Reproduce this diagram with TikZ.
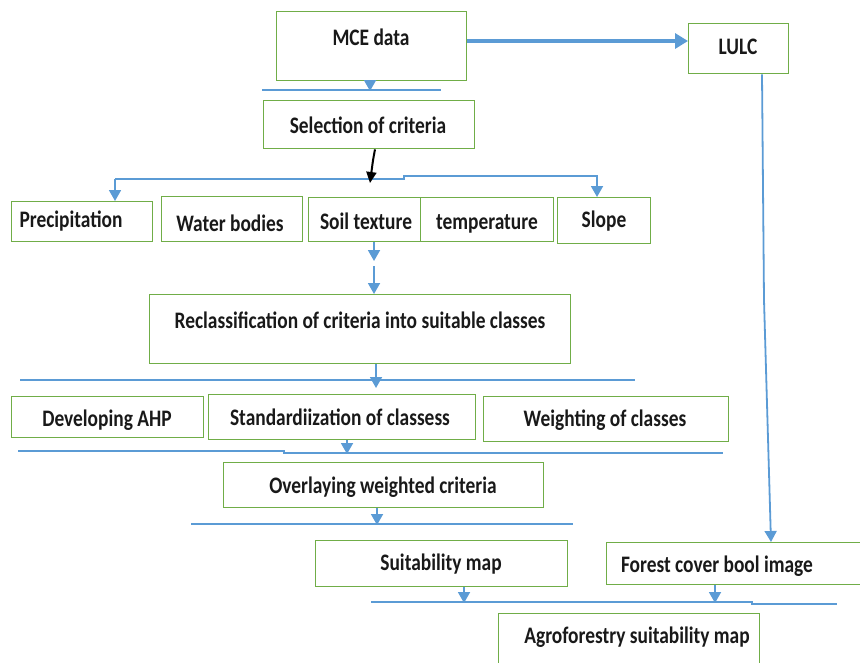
\documentclass[tikz,border=0pt]{standalone}
\usepackage{fontspec}
\setmainfont{Carlito}
\usetikzlibrary{arrows.meta}
\definecolor{boxgreen}{HTML}{70AD47}
\definecolor{flowblue}{HTML}{5B9BD5}
\newcommand\tallt[1]{\scalebox{1}[1.22]{#1}}
\tikzset{
  box/.style={draw=boxgreen, line width=1.4pt, rectangle, inner sep=0pt, anchor=north west},
  txt/.style={inner sep=0pt, font=\fontsize{19.4}{20}\selectfont\bfseries, text=black!90},
  bar/.style={draw=flowblue, line width=1.6pt},
  flow/.style={draw=flowblue, line width=1.8pt, -{Triangle[length=11pt,width=12pt]}},
  thickflow/.style={draw=flowblue, line width=3.4pt, -{Triangle[length=13pt,width=15pt]}},
  blackflow/.style={draw=black, line width=2pt, -{Triangle[length=11pt,width=10pt]}}
}
\begin{document}
\begin{tikzpicture}[x=1pt,y=-1pt]
\useasboundingbox (0,0) rectangle (860,662);
\clip (0,0) rectangle (860,662);
% boxes
\node[box, minimum width=190pt, minimum height=69pt] (mce) at (276,11) {};
\node[txt] (mcet) at (371,37) {\tallt{MCE data}};
\node[box, minimum width=100pt, minimum height=50pt] (lulc) at (688,23) {};
\node[txt] (lulct) at (738,47) {\tallt{LULC}};
\node[box, minimum width=211pt, minimum height=48pt] (sel) at (263,100) {};
\node[txt] (selt) at (368,125) {\tallt{Selection of criteria}};
\node[box, minimum width=141pt, minimum height=40pt] (prec) at (11,201) {};
\node[txt] (prect) at (71,221) {\tallt{Precipitation}};
\node[box, minimum width=141pt, minimum height=45pt] (water) at (161,196) {};
\node[txt] (watert) at (230,223) {\tallt{Water bodies}};
\node[box, minimum width=112pt, minimum height=44pt] (soil) at (308,197) {};
\node[txt] (soilt) at (366,221) {\tallt{Soil texture}};
\node[box, minimum width=133pt, minimum height=44pt] (temp) at (420,197) {};
\node[txt] (tempt) at (487,224) {\tallt{temperature}};
\node[box, minimum width=93pt, minimum height=46pt] (slope) at (557,197) {};
\node[txt] (slopet) at (604,221) {\tallt{Slope}};
\node[box, minimum width=421pt, minimum height=69pt] (recl) at (149,294) {};
\node[txt] (reclt) at (360,320) {\tallt{Reclassification of criteria into suitable classes}};
\node[box, minimum width=192pt, minimum height=41pt] (ahp) at (11,396) {};
\node[txt] (ahpt) at (107,420) {\tallt{Developing AHP}};
\node[box, minimum width=267pt, minimum height=45pt] (std) at (208,394) {};
\node[txt] (stdt) at (340,417) {\tallt{Standardiization of classess}};
\node[box, minimum width=245pt, minimum height=45pt] (wgt) at (483,396) {};
\node[txt] (wgtt) at (605,420) {\tallt{Weighting of classes}};
\node[box, minimum width=320pt, minimum height=45pt] (ovl) at (223,462) {};
\node[txt] (ovlt) at (383,487) {\tallt{Overlaying weighted criteria}};
\node[box, minimum width=252pt, minimum height=46pt] (suit) at (315,540) {};
\node[txt] (suitt) at (441,564) {\tallt{Suitability map}};
\node[box, minimum width=260pt, minimum height=42pt] (forest) at (606,542) {};
\node[txt] (forestt) at (717,566) {\tallt{Forest cover bool image}};
\node[box, minimum width=261pt, minimum height=60pt] (agro) at (498,613) {};
\node[txt] (agrot) at (637,637) {\tallt{Agroforestry suitability map}};
% bars
\coordinate (b1l) at (262,90); \coordinate (b1r) at (441,90); \coordinate (b1m) at (370,91);
\draw[bar] (b1l) -- (b1r);
\coordinate (b2l) at (115,179); \coordinate (b2k) at (404,179); \coordinate (b2j) at (404,176); \coordinate (b2r) at (598,176);
\coordinate (b2m) at (370,183);
\draw[bar] (b2l) -- (b2k) -- (b2j) -- (b2r);
\coordinate (b3l) at (20,380); \coordinate (b3r) at (635,380); \coordinate (b3m) at (376,388);
\draw[bar] (b3l) -- (b3r);
\coordinate (b4l) at (18,451); \coordinate (b4k) at (284,451); \coordinate (b4j) at (284,453); \coordinate (b4r) at (723,453);
\draw[bar] (b4l) -- (b4k) -- (b4j) -- (b4r);
\coordinate (b5l) at (191,524); \coordinate (b5r) at (573,524);
\draw[bar] (b5l) -- (b5r);
\coordinate (b6l) at (371,602); \coordinate (b6k) at (752,602); \coordinate (b6j) at (752,604); \coordinate (b6r) at (837,604);
\draw[bar] (b6l) -- (b6k) -- (b6j) -- (b6r);
\coordinate (s1) at (374,261); \coordinate (s2) at (374,266);
% connectors
\draw[flow] (mce.south -| b1m) -- (b1m);
\draw[thickflow] (mce.east |- 0,41) -- (lulc.west |- 0,41);
\draw[blackflow] (sel.south -| 375,0) .. controls (373,160) .. (b2m);
\draw[flow] (b2l) -- (prec.north -| b2l);
\draw[flow] ([xshift=-1pt]b2r) -- (slope.north -| 597,0);
\draw[flow] (soil.south -| s1) -- (s1);
\draw[flow] (s2) -- (recl.north -| s2);
\draw[flow] (recl.south -| b3m) -- (b3m);
\draw[flow] (std.south -| 347,0) -- (347,454);
\draw[flow] (ovl.south -| 377,0) -- (377,525);
\draw[flow] (suit.south -| 464,0) -- (464,603);
\draw[flow] (forest.south -| 715,0) -- (715,603);
\draw[flow] (lulc.south -| 762,0) -- (764,300) -- (771,542);
\end{tikzpicture}
\end{document}
